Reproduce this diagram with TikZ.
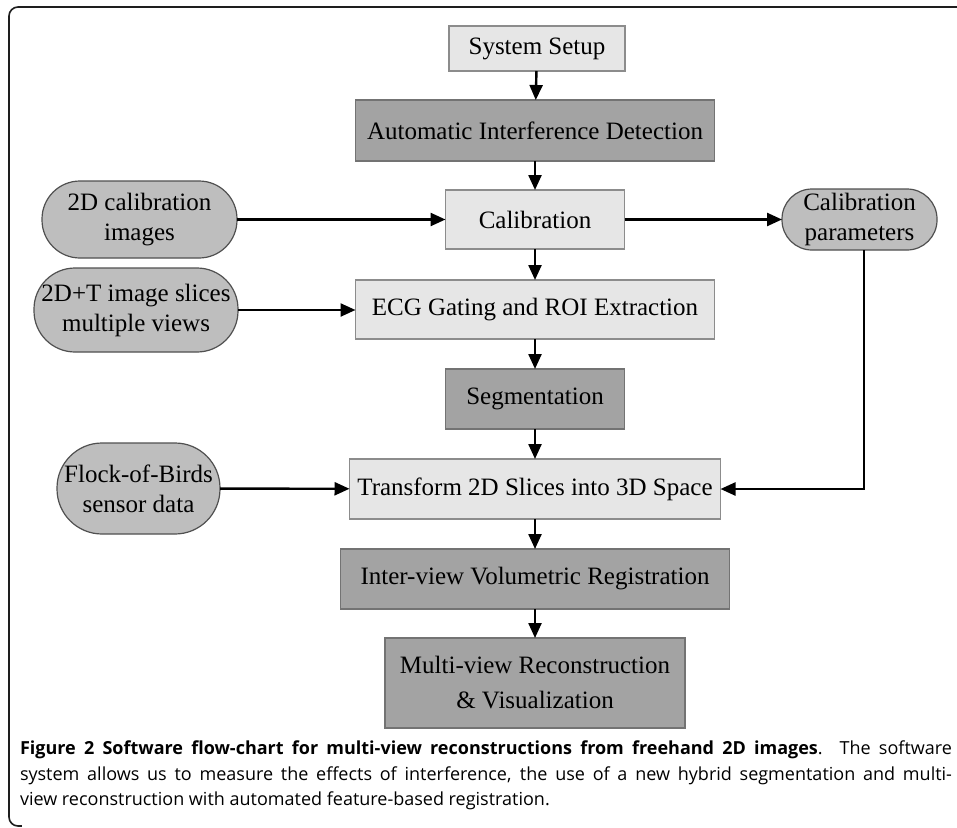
\documentclass[tikz,border=0pt]{standalone}
\usepackage{fontspec}
\setmainfont{Liberation Serif}
\newfontfamily\capfont{Open Sans}
\usetikzlibrary{arrows.meta}
\definecolor{ltfill}{RGB}{230,230,230}
\definecolor{ltdraw}{RGB}{140,140,140}
\definecolor{dkfill}{RGB}{163,163,163}
\definecolor{dkdraw}{RGB}{115,115,115}
\definecolor{stfill}{RGB}{190,190,190}
\definecolor{stdraw}{RGB}{80,80,80}
\definecolor{framec}{RGB}{30,30,30}
\begin{document}
\begin{tikzpicture}[x=1pt,y=-1pt,
  every node/.style={inner sep=0pt, outer sep=0pt},
  boxtxt/.style={font=\fontsize{25}{30}\selectfont, align=center},
  lightbox/.style={boxtxt, rectangle, fill=ltfill, draw=ltdraw, line width=1.2pt},
  darkbox/.style={boxtxt, rectangle, fill=dkfill, draw=dkdraw, line width=1.2pt},
  stadium/.style={boxtxt, rectangle, fill=stfill, draw=stdraw, line width=1.2pt},
  flow/.style={line width=2.4pt, -{Triangle[length=15pt,width=13pt]}},
]
\useasboundingbox (0,0) rectangle (957,827);
\fill[white] (0,0) rectangle (957,827);
% frame
\draw[framec, line width=1.6pt, rounded corners=9pt] (957,7) -- (9,7) -- (9,826) -- (40,826);
\fill[white] (22,822) rectangle (45,830);

% main column
\node[lightbox, minimum width=176pt, minimum height=45pt] (setup) at (537,48.5) {System Setup};
\node[darkbox, minimum width=359pt, minimum height=61pt] (aid) at (535,130.5) {Automatic Interference Detection};
\node[lightbox, minimum width=179pt, minimum height=59pt] (calib) at (535,219.5) {Calibration};
\node[lightbox, minimum width=359pt, minimum height=59pt] (ecg) at (535,309.5) {ECG Gating and ROI Extraction};
\node[darkbox, minimum width=179pt, minimum height=60pt] (seg) at (535,399) {Segmentation};
\node[lightbox, minimum width=371pt, minimum height=60pt] (trans) at (535,489) {Transform 2D Slices into 3D Space};
\node[darkbox, minimum width=389pt, minimum height=60pt] (inter) at (535,579) {Inter-view Volumetric Registration};
\node[darkbox, minimum width=300pt, minimum height=90pt, font=\fontsize{25}{35}\selectfont] (multi) at (535,683) {Multi-view Reconstruction\\\& Visualization};

% side inputs
\node[stadium, minimum width=195pt, minimum height=77pt, rounded corners=38pt] (calimg) at (139.5,219.5) {2D calibration\\images};
\node[stadium, minimum width=204pt, minimum height=84pt, rounded corners=41pt] (slices) at (136,310) {2D+T image slices\\multiple views};
\node[stadium, minimum width=163pt, minimum height=91pt, rounded corners=45pt] (flock) at (138.5,488.5) {Flock-of-Birds\\sensor data};
\node[stadium, minimum width=155pt, minimum height=61pt, rounded corners=30pt] (params) at (859.5,219.5) {Calibration\\parameters};
\coordinate (turn) at (864,489);

% connectors
\draw[flow] (setup) -- (aid);
\draw[flow] (aid) -- (calib);
\draw[flow] (calib) -- (ecg);
\draw[flow] (ecg) -- (seg);
\draw[flow] (seg) -- (trans);
\draw[flow] (trans) -- (inter);
\draw[flow] (inter) -- (multi);
\draw[flow] (calimg) -- (calib);
\draw[flow] (calib) -- (params);
\draw[flow] (slices.east) -- (slices.east -| ecg.west);
\draw[flow] (flock) -- (trans);
\draw[flow] (turn |- params.south) -- (turn) -- (trans.east);

% caption
\node[anchor=north west, text width=932pt, align=justify, font=\capfont\fontsize{18}{25.5}\selectfont] (caption) at (20,741)
{\textbf{Figure 2 Software flow-chart for multi-view reconstructions from freehand 2D images}. The software\linebreak
system allows us to measure the effects of interference, the use of a new hybrid segmentation and multi-\linebreak
view reconstruction with automated feature-based registration.};
\end{tikzpicture}
\end{document}
